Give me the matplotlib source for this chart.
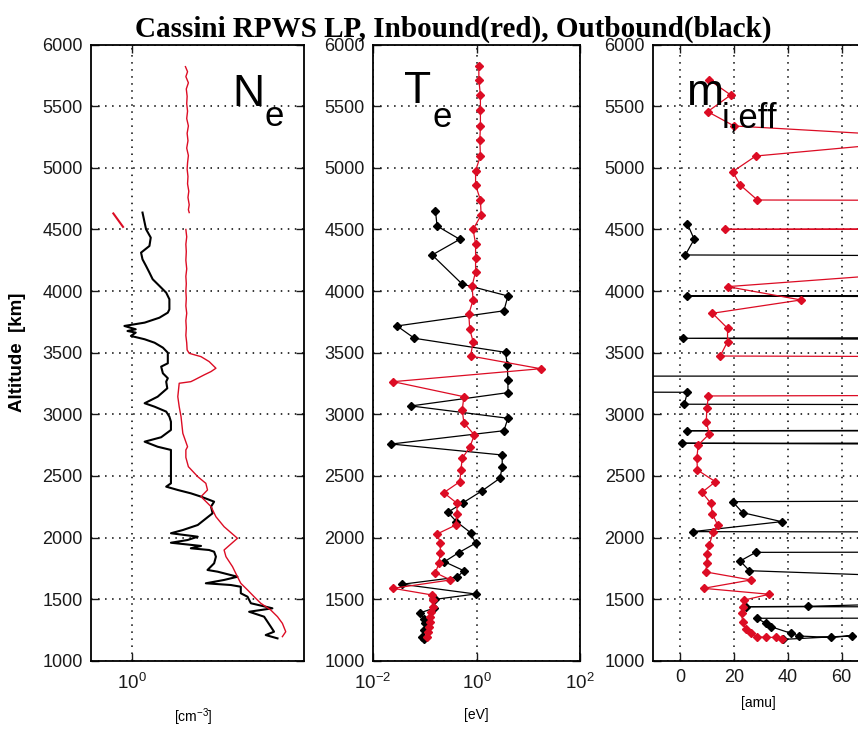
import numpy as np
import matplotlib.pyplot as plt

plt.rcParams['font.family'] = ['Liberation Sans', 'DejaVu Sans']
plt.rcParams['mathtext.fontset'] = 'custom'
plt.rcParams['mathtext.rm'] = 'Liberation Sans'
plt.rcParams['mathtext.it'] = 'Liberation Sans:italic'
plt.rcParams['mathtext.bf'] = 'Liberation Sans:bold'

RED = '#dc0c24'
W, H = 858, 731

# ---------------- N_e [cm^-3] ----------------
ne_out_alt = [4637, 4555, 4502, 4434, 4366, 4312, 4258, 4204, 4150, 4096, 4042, 3987,
              3934, 3852, 3825, 3784, 3744, 3717, 3690, 3676, 3663, 3636, 3609, 3581,
              3541, 3500, 3414, 3387, 3333, 3293, 3265, 3211, 3143, 3090, 3062, 3022,
              2981, 2940, 2873, 2814, 2778, 2737, 2711, 2575, 2440, 2413, 2386, 2359,
              2332, 2291, 2251, 2197, 2143, 2102, 2061, 2035, 2007, 1980, 1958, 1932,
              1913, 1899, 1885, 1845, 1791, 1737, 1723, 1682, 1656, 1629, 1615, 1601,
              1548, 1520, 1467, 1426, 1398, 1358, 1317, 1277, 1236, 1209, 1182]
ne_out = [1.14, 1.17, 1.19, 1.26, 1.24, 1.12, 1.14, 1.19, 1.24, 1.29, 1.40, 1.52,
          1.58, 1.58, 1.55, 1.40, 1.17, 0.915, 1.05, 0.95, 1.05, 0.99, 1.17, 1.32,
          1.46, 1.55, 1.55, 1.43, 1.46, 1.55, 1.52, 1.54, 1.37, 1.17, 1.32, 1.52,
          1.58, 1.61, 1.61, 1.43, 1.17, 1.37, 1.61, 1.61, 1.61, 1.52, 1.75, 2.05,
          2.32, 2.72, 2.62, 2.67, 2.41, 2.23, 1.86, 1.61, 2.23, 1.97, 1.61, 2.32,
          2.05, 2.56, 2.72, 2.78, 2.72, 2.51, 2.84, 3.61, 3.07, 2.46, 3.33, 3.76,
          3.76, 4.08, 4.25, 5.52, 4.16, 4.99, 5.20, 5.41, 5.63, 5.09, 5.87]

ne_in_top_alt = [5821, 5780, 5740, 5690, 5640, 5580, 5520, 5460, 5400, 5340, 5280, 5220,
                 5160, 5100, 5040, 4990, 4930, 4870, 4810, 4760, 4700, 4660, 4637]
ne_in_top = [1.92, 1.97, 1.93, 1.99, 1.94, 1.96, 1.95, 1.97, 1.95, 1.99, 1.96, 1.98,
             1.95, 1.99, 1.97, 1.96, 1.98, 1.97, 2.00, 1.98, 2.01, 1.99, 2.01]
ne_in_tail_alt = [4630, 4521]
ne_in_tail = [0.80, 0.90]
ne_in_low_alt = [4500, 4440, 4380, 4320, 4250, 4180, 4120, 4060, 4000, 3940, 3880, 3820,
                 3760, 3700, 3640, 3580, 3522, 3495, 3468, 3428, 3374, 3347, 3320, 3279,
                 3265, 3252, 3143, 3062, 2981, 2846, 2737, 2711, 2650, 2575, 2494, 2440,
                 2386, 2332, 2251, 2169, 2088, 1994, 1899, 1845, 1764, 1682, 1629, 1575,
                 1520, 1467, 1412, 1358, 1304, 1236, 1196]
ne_in_low = [1.93, 1.95, 1.93, 1.94, 1.93, 1.95, 1.93, 1.94, 1.93, 1.94, 1.93, 1.95,
             1.93, 1.94, 1.93, 1.95, 1.96, 2.01, 2.32, 2.56, 2.78, 2.62, 2.41, 2.14,
             2.05, 1.78, 1.75, 1.78, 1.82, 1.86, 1.97, 1.93, 1.93, 1.99, 2.23, 2.46,
             2.51, 2.32, 2.62, 2.78, 3.07, 3.61, 3.07, 3.14, 3.40, 3.61, 3.76, 4.08,
             4.42, 4.79, 5.41, 5.87, 6.23, 6.49, 6.23]

# ---------------- T_e [eV] ----------------
te_in_alt = [5827, 5713, 5591, 5470, 5340, 5226, 5096, 4977, 4861, 4739, 4617, 4501,
             4382, 4266, 4157, 4041, 3928, 3814, 3690, 3590, 3473, 3370, 3265, 3143,
             3035, 2932, 2832, 2733, 2643, 2548, 2453, 2364, 2278, 2191, 2102, 2029,
             1958, 1872, 1791, 1715, 1656, 1588, 1534, 1490, 1439, 1398, 1358, 1317,
             1277, 1236, 1196]
te_in = [1.11, 1.11, 1.19, 1.19, 1.19, 1.16, 1.19, 0.96, 0.96, 1.19, 1.23, 0.86,
         0.96, 0.96, 0.96, 0.82, 0.86, 0.71, 0.74, 0.86, 0.77, 17.4, 0.0245, 0.57,
         0.53, 0.57, 0.91, 0.74, 0.53, 0.50, 0.475, 0.233, 0.42, 0.42, 0.40, 0.173,
         0.20, 0.20, 0.187, 0.161, 0.314, 0.0245, 0.139, 0.142, 0.145, 0.135, 0.129, 0.124,
         0.119, 0.115, 0.111]

te_out_alt = [4652, 4528, 4420, 4293, 4057, 3960, 3840, 3717, 3617, 3503, 3400, 3279,
              3176, 3068, 2968, 2867, 2759, 2670, 2570, 2481, 2380, 2283, 2205, 2129,
              2040, 1954, 1878, 1804, 1731, 1678, 1621, 1542, 1499, 1426, 1390, 1340,
              1304, 1250, 1196, 1174]
te_out = [0.161, 0.173, 0.475, 0.139, 0.528, 4.05, 3.38, 0.0291, 0.063, 3.64, 3.93, 4.05,
          4.05, 0.0543, 4.05, 3.38, 0.0226, 3.14, 3.14, 2.83, 1.29, 0.552, 0.279, 0.41,
          0.766, 0.957, 0.455, 0.24, 0.569, 0.423, 0.0364, 0.957, 0.161, 0.149, 0.0824, 0.095,
          0.103, 0.097, 0.0887, 0.0955]

# ---------------- m_i,eff [amu] ----------------
mi_in_alt = [5713, 5591, 5456, 5340, 5240, 5096, 4969, 4861, 4739, 4620, 4501, 4490,
             4250, 4036, 3928, 3820, 3698, 3590, 3473, 3300, 3149, 3049, 2940, 2840,
             2751, 2648, 2548, 2453, 2367, 2278, 2191, 2102, 2048, 1940, 1867, 1796,
             1721, 1656, 1588, 1540, 1493, 1439, 1385, 1317, 1255, 1223, 1196, 1190,
             1190, 1174]
mi_in = [10.8, 18.8, 10.2, 20.0, 100, 28.1, 19.5, 22.3, 28.7, 3000, 16.6, 3000,
         150, 17.6, 44.9, 12.0, 17.6, 17.6, 14.9, 3000, 10.5, 9.9, 9.7, 10.8,
         6.7, 6.2, 6.4, 13.1, 8.1, 11.4, 12.0, 13.9, 12.3, 10.8, 9.9, 9.9,
         9.5, 26.3, 8.7, 33.1, 23.8, 23.2, 22.8, 23.2, 24.4, 26.3, 28.7, 31.8,
         35.6, 38.0]

mi_out_alt = [4545, 4420, 4293, 4120, 3960, 3790, 3617, 3320, 3300, 3179, 3082, 2970,
              2867, 2815, 2765, 2530, 2291, 2202, 2129, 2048, 1960, 1880, 1810, 1731,
              1560, 1442, 1439, 1400, 1345, 1304, 1277, 1223, 1201, 1190, 1203, 1174]
mi_out = [2.7, 5.2, 1.9, 3000, 2.7, 3000, 0.9, 3000, -3000, 2.7, 1.5, 3000,
          2.5, 3000, 0.5, 3000, 19.5, 23.2, 37.7, 4.6, 3000, 28.1, 22.3, 25.7,
          250, 47.4, 24.4, 3000, 28.5, 31.9, 33.7, 41.2, 44.2, 56.0, 64.0, 38.4]


fig = plt.figure(figsize=(W / 100, H / 100), dpi=100)


def px_axes(x0, x1, y0, y1):
    return fig.add_axes([x0 / W, 1 - y1 / H, (x1 - x0) / W, (y1 - y0) / H])


def fig_text(x, y, s, **kw):
    fig.text(x / W, 1 - y / H, s, **kw)


ax1 = px_axes(91, 304, 44.6, 660.8)
ax2 = px_axes(373, 580, 44.6, 660.8)
ax3 = px_axes(653.3, 868.5, 44.6, 660.8)

for ax in (ax1, ax2, ax3):
    ax.set_ylim(1000, 6000)
    ax.set_yticks(np.arange(1000, 6001, 500))
    ax.tick_params(direction='in', length=6, width=1, top=True, right=True,
                   labelsize=13, pad=6, colors='#1a1a1a')
    ax.grid(True, color='black', linestyle=(0, (1, 3.6)), linewidth=1.1)
    for s in ax.spines.values():
        s.set_linewidth(1.3)

# panel 1
ax1.plot(ne_out, ne_out_alt, color='black', lw=1.5)
ax1.plot(ne_in_top, ne_in_top_alt, color=RED, lw=1.0)
ax1.plot(ne_in_tail, ne_in_tail_alt, color=RED, lw=1.5)
ax1.plot(ne_in_low, ne_in_low_alt, color=RED, lw=1.0)
ax1.set_xscale('log')
ax1.set_xlim(0.61, 8.1)
ax1.set_xticks([1])
ax1.xaxis.set_minor_locator(plt.NullLocator())

# panel 2
ax2.plot(te_out, te_out_alt, color='black', lw=0.9, marker='D', ms=3.6)
ax2.plot(te_in, te_in_alt, color=RED, lw=0.9, marker='D', ms=3.6)
ax2.set_xscale('log')
ax2.set_xlim(1e-2, 1e2)
ax2.set_xticks([1e-2, 1, 1e2])
ax2.xaxis.set_minor_locator(plt.NullLocator())

for ax in (ax1, ax2):
    ax.tick_params(axis='x', pad=9, labelsize=13.5)

# panel 3
ax3.plot(mi_out, mi_out_alt, color='black', lw=0.9, marker='D', ms=3.6)
ax3.plot(mi_in, mi_in_alt, color=RED, lw=0.9, marker='D', ms=3.6)
ax3.set_xlim(-10, 70)
ax3.set_xticks([0, 20, 40, 60])

# labels
fig_text(453, 29, 'Cassini RPWS LP, Inbound(red), Outbound(black)', ha='center', va='center',
         family='Liberation Serif', weight='bold', size=21)
fig_text(18, 352, 'Altitude  [km]', rotation=90, ha='center', va='center',
         weight='bold', size=13.5)
fig_text(193, 717, r'[cm$^{-3}$]', ha='center', va='center', size=10)
fig_text(476, 715, '[eV]', ha='center', va='center', size=10)
fig_text(758, 703, '[amu]', ha='center', va='center', size=10)

fig_text(232, 106, 'N', ha='left', va='baseline', size=32)
fig_text(265, 126, 'e', ha='left', va='baseline', size=25)
fig_text(404, 103, 'T', ha='left', va='baseline', size=32)
fig_text(433, 127, 'e', ha='left', va='baseline', size=25)
fig_text(687, 105, 'm', ha='left', va='baseline', size=32)
fig_text(722, 127, 'i,eff', ha='left', va='baseline', size=25)

fig.savefig('out.png', dpi=100)
